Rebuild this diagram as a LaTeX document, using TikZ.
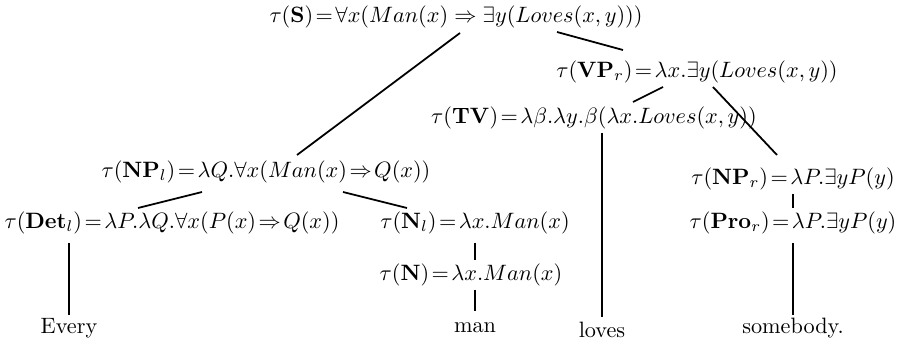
\documentclass[tikz,border=0pt]{standalone}
\usetikzlibrary{calc}
\begin{document}
\begin{tikzpicture}[x=0.45pt, y=-0.45pt]
  \useasboundingbox (0,0) rectangle (899,349);
  \node (S) at (456,17) {$\tau(\mathbf{S})\!=\!\forall x(Man(x) \Rightarrow \exists y(Loves(x,y)))$};
  \node (VPr) at (697,72) {$\tau(\mathbf{VP}_r)\!=\!\lambda x.\exists y(Loves(x,y))$};
  \node (TV) at (594,118) {$\tau(\mathbf{TV})\!=\!\lambda\beta.\lambda y.\beta(\lambda x.Loves(x,y))$};
  \node (NPl) at (266,172) {$\tau(\mathbf{NP}_l)\!=\!\lambda Q.\forall x(Man(x)\!\Rightarrow\!Q(x))$};
  \node (NPr) at (793,179) {$\tau(\mathbf{NP}_r)\!=\!\lambda P.\exists yP(y)$};
  \node (Detl) at (172,223) {$\tau(\mathbf{Det}_l)\!=\!\lambda P.\lambda Q.\forall x(P(x)\!\Rightarrow\!Q(x))$};
  \node (Nl) at (475,223) {$\tau(\mathbf{N}_l)\!=\!\lambda x.Man(x)$};
  \node (Pror) at (793,223) {$\tau(\mathbf{Pro}_r)\!=\!\lambda P.\exists yP(y)$};
  \node (N) at (471,275) {$\tau(\mathbf{N})\!=\!\lambda x.Man(x)$};
  \node (every) at (69,328) {Every};
  \node (man) at (475,328) {man};
  \node (loves) at (602,330) {loves};
  \node (somebody) at (793,328) {somebody.};
  \draw[thick] ($(S)+(4,16)$) -- ($(NPl)+(31,-17)$);
  \draw[thick] ($(S)+(101,15)$) -- ($(VPr)+(-74,-22)$);
  \draw[thick] ($(VPr)+(-34,15)$) -- ($(TV)+(39,-16)$);
  \draw[thick] ($(VPr)+(16,15)$) -- ($(NPr)+(-16,-24)$);
  \draw[thick] ($(NPl)+(-64,20)$) -- ($(Detl)+(-34,-15)$);
  \draw[thick] ($(NPl)+(77,20)$) -- ($(Nl)+(-68,-15)$);
  \draw[thick] ($(NPr)+(0,15)$) -- ($(Pror)+(0,-15)$);
  \draw[thick] ($(Detl)+(-103,20)$) -- ($(every)+(0,-13)$);
  \draw[thick] ($(Nl)+(0,20)$) -- ($(N)+(4,-15)$);
  \draw[thick] ($(N)+(4,15)$) -- ($(man)+(0,-17)$);
  \draw[thick] ($(TV)+(8,15)$) -- ($(loves)+(0,-13)$);
  \draw[thick] ($(Pror)+(0,20)$) -- ($(somebody)+(0,-13)$);
\end{tikzpicture}
\end{document}
